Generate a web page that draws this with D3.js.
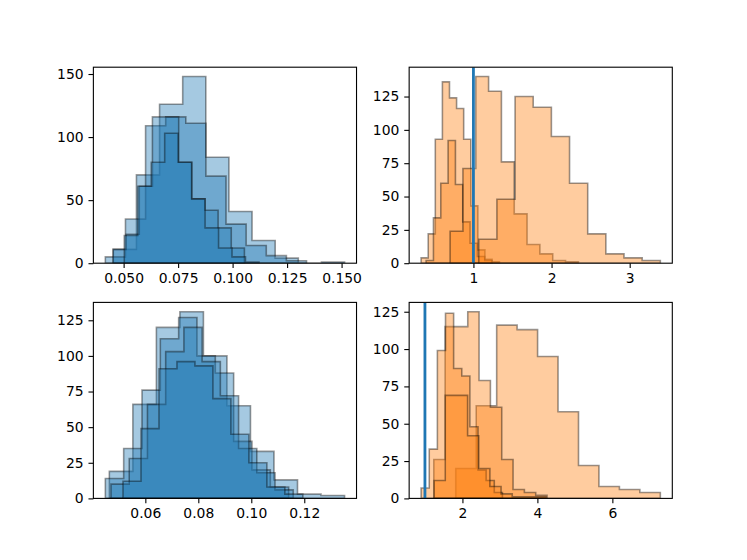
<!DOCTYPE html>
<html>
<head>
<meta charset="utf-8">
<script src="https://cdn.jsdelivr.net/npm/d3@7"></script>
<style>
  body { margin: 0; background: #fff; }
  svg { font-family: "DejaVu Sans", sans-serif; }
</style>
</head>
<body>
<div id="chart"></div>
<script>
// each histogram: first bin edge, bin width, 10 counts
var topLeftStarts = [0.04527, 0.04161, 0.04512, 0.0503];
var topLeftWidths = [0.01061, 0.00923, 0.00603, 0.00618];
var topLeftCounts = [
    [11, 70, 126, 148, 84, 41, 18, 4, 0, 1],
    [5, 35, 109, 116, 111, 69, 31, 14, 6, 2],
    [11, 23, 61, 116, 116, 80, 51, 42, 28, 12],
    [22, 61, 80, 103, 80, 51, 28, 12, 5, 1]
];

var topRightStarts = [0.3305, 0.3945, 0.7015, 1.0682];
var topRightWidths = [0.0908, 0.0938, 0.1642, 0.2324];
var topRightCounts = [
    [4, 22, 93, 136, 124, 116, 93, 43, 10, 3],
    [2, 34, 60, 92, 59, 31, 15, 5, 2, 1],
    [24, 71, 140, 129, 76, 37, 14, 7, 2, 1],
    [18, 48, 125, 117, 95, 60, 22, 7, 4, 2]
];

var botLeftStarts = [0.04641, 0.0449, 0.04704, 0.05157];
var botLeftWidths = [0.00888, 0.00692, 0.00688, 0.00679];
var botLeftCounts = [
    [19, 66, 120, 131, 100, 65, 33, 13, 3, 2],
    [14, 35, 76, 112, 127, 100, 88, 40, 20, 8],
    [10, 28, 66, 103, 120, 96, 72, 35, 18, 6],
    [12, 49, 91, 96, 93, 70, 45, 25, 8, 3]
];

var botRightStarts = [1.822, 1.2356, 0.8978, 1.2444];
var botRightWidths = [0.5458, 0.3022, 0.2169, 0.2978];
var botRightCounts = [
    [20, 62, 116, 113, 95, 58, 22, 8, 6, 4],
    [26, 115, 115, 125, 79, 61, 26, 6, 4, 2],
    [7, 33, 99, 124, 87, 82, 48, 19, 12, 4],
    [12, 69, 69, 42, 20, 8, 3, 1, 1, 1]
];

var topLeftXTicks = [0.05, 0.075, 0.1, 0.125, 0.15];
var topLeftYTicks = [0, 50, 100, 150];
var topRightXTicks = [1, 2, 3];
var botLeftXTicks = [0.06, 0.08, 0.10, 0.12];
var botRightXTicks = [2, 4, 6];
var countTicks = [0, 25, 50, 75, 100, 125];
var refLine = 1;

var width = 747, height = 560;
// matplotlib default subplot params
var figLeft = 0.125 * width, figRight = 0.9 * width;
var figTop = (1 - 0.88) * height, figBottom = (1 - 0.11) * height;
var aw = (figRight - figLeft) / 2.2, ah = (figBottom - figTop) / 2.2;

var svg = d3.select("#chart").append("svg")
    .attr("width", width)
    .attr("height", height);

var panels = [
    { row: 0, col: 0, starts: topLeftStarts, widths: topLeftWidths, counts: topLeftCounts,
      color: "#1f77b4", xt: topLeftXTicks, xf: ".3f", yt: topLeftYTicks, line: false },
    { row: 0, col: 1, starts: topRightStarts, widths: topRightWidths, counts: topRightCounts,
      color: "#ff7f0e", xt: topRightXTicks, xf: "d", yt: countTicks, line: true },
    { row: 1, col: 0, starts: botLeftStarts, widths: botLeftWidths, counts: botLeftCounts,
      color: "#1f77b4", xt: botLeftXTicks, xf: ".2f", yt: countTicks, line: false },
    { row: 1, col: 1, starts: botRightStarts, widths: botRightWidths, counts: botRightCounts,
      color: "#ff7f0e", xt: botRightXTicks, xf: "d", yt: countTicks, line: true }
];

panels.forEach(function(p, pi) {
    var x0 = figLeft + p.col * aw * 1.2;
    var y0 = figTop + p.row * ah * 1.2;
    var g = svg.append("g").attr("transform", "translate(" + x0 + "," + y0 + ")");

    // data limits like matplotlib autoscale (5% margin on x, sticky 0 on y)
    var lo = d3.min(p.starts);
    var hi = d3.max(p.starts.map(function(s, i) { return s + 10 * p.widths[i]; }));
    var r = hi - lo;
    var cmax = d3.max(p.counts, function(c) { return d3.max(c); });

    var x = d3.scaleLinear().domain([lo - 0.05 * r, hi + 0.05 * r]).range([0, aw]);
    var y = d3.scaleLinear().domain([0, cmax * 1.05]).range([ah, 0]);

    g.append("clipPath").attr("id", "clip" + pi)
        .append("rect").attr("width", aw).attr("height", ah);

    var plot = g.append("g").attr("clip-path", "url(#clip" + pi + ")");

    p.counts.forEach(function(c, h) {
        var s = p.starts[h], w = p.widths[h];
        var pts = [[x(s), y(0)]];
        c.forEach(function(v, k) {
            pts.push([x(s + k * w), y(v)]);
            pts.push([x(s + (k + 1) * w), y(v)]);
        });
        pts.push([x(s + 10 * w), y(0)]);
        plot.append("path")
            .attr("d", d3.line()(pts) + "Z")
            .style("fill", p.color)
            .style("fill-opacity", 0.4)
            .style("stroke", "#000")
            .style("stroke-opacity", 0.4)
            .style("stroke-width", 1.6)
            .style("stroke-linejoin", "miter");
    });

    if (p.line) {
        plot.append("line")
            .attr("x1", x(refLine)).attr("x2", x(refLine))
            .attr("y1", 0).attr("y2", ah)
            .style("stroke", "#1f77b4")
            .style("stroke-width", 2.8);
    }

    var xAxis = d3.axisBottom(x).tickValues(p.xt).tickFormat(d3.format(p.xf))
        .tickSize(4.9).tickPadding(4.9);
    var yAxis = d3.axisLeft(y).tickValues(p.yt).tickSize(4.9).tickPadding(4.9);

    g.append("g").attr("class", "axis").attr("transform", "translate(0," + ah + ")").call(xAxis);
    g.append("g").attr("class", "axis").call(yAxis);

    g.append("rect")
        .attr("width", aw).attr("height", ah)
        .style("fill", "none").style("stroke", "#000").style("stroke-width", 1.1);
});

svg.selectAll(".axis .domain").remove();
svg.selectAll(".axis .tick line").style("stroke", "#000").style("stroke-width", 1.1);
svg.selectAll(".axis text")
    .style("font-size", "13.9px").style("font-family", "DejaVu Sans").style("fill", "#000");
</script>
</body>
</html>
